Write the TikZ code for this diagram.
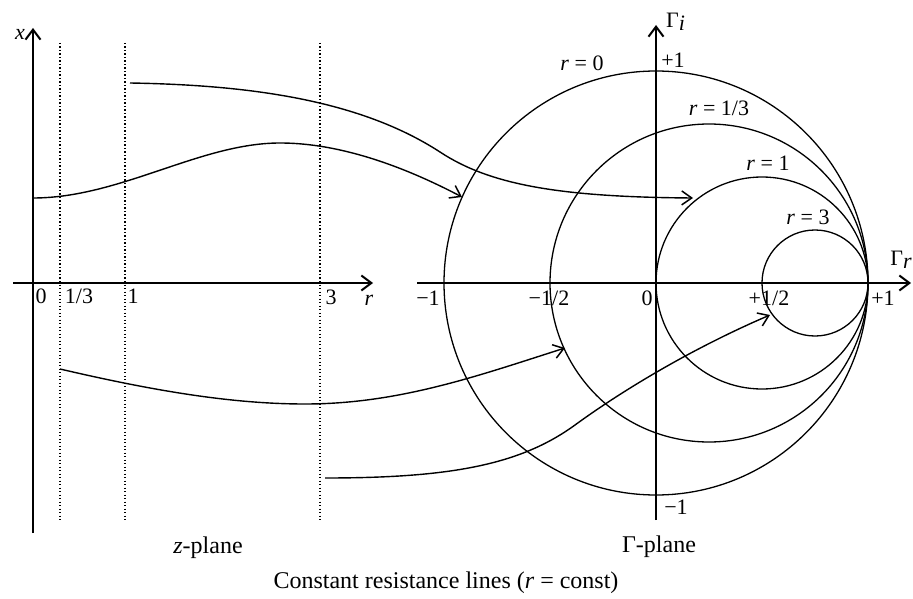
\documentclass[tikz,border=0pt]{standalone}
\usepackage{fontspec}
\setmainfont{Liberation Serif}
\usetikzlibrary{arrows.meta}
\begin{document}
\begin{tikzpicture}[x=1pt,y=-1pt,
  lbl/.style={font=\fontsize{22}{26}\selectfont, inner sep=0pt},
  captxt/.style={font=\fontsize{24}{28}\selectfont, inner sep=0pt},
  axis/.style={line width=2.6pt, -{Straight Barb[length=10pt,width=15pt,line width=2pt]}},
  thinaxis/.style={line width=2pt, -{Straight Barb[length=10pt,width=15pt,line width=2pt]}},
  circ/.style={line width=1.3pt},
  guide/.style={line width=1.6pt, dash pattern=on 1.3pt off 2.2pt},
  conn/.style={line width=1.4pt, -{Straight Barb[length=10pt,width=14pt,line width=1.5pt]}}]
\useasboundingbox (0,0) rectangle (913,599);
% ---------- z-plane ----------
\coordinate (xb) at (33,533);
\coordinate (xt) at (33,28);
\coordinate (rl) at (13,283);
\coordinate (rt) at (373,283);
\draw[axis] (xb) -- (xt);
\draw[thinaxis] (rl) -- (rt);
\coordinate (g1t) at (60,43);  \coordinate (g1b) at (60,520);
\coordinate (g2t) at (125,43); \coordinate (g2b) at (125,520);
\coordinate (g3t) at (320,43); \coordinate (g3b) at (320,520);
\draw[guide] (g1t) -- (g1b);
\draw[guide] (g2t) -- (g2b);
\draw[guide] (g3t) -- (g3b);
\node[lbl] (lx) at (20,34) {\textit{x}};
\node[lbl] (l0) at (41,296) {0};
\node[lbl] (l13) at (79,296) {1/3};
\node[lbl] (l1) at (133,296) {1};
\node[lbl] (l3) at (331,297) {3};
\node[lbl] (lr) at (369,300) {\textit{r}};
\node[captxt] (zpl) at (208,548) {\textit{z}-plane};
% ---------- Gamma-plane ----------
\coordinate (O) at (656,283);
\coordinate (gvb) at (656,520);
\coordinate (gvt) at (656,25);
\coordinate (ghl) at (417,283);
\coordinate (ghr) at (911,283);
\draw[circ] (O) circle[radius=212];
\draw[circ] (709,283) circle[radius=159];
\draw[circ] (762,283) circle[radius=106];
\draw[circ] (815,283) circle[radius=53];
\draw[axis] (gvb) -- (gvt);
\draw[thinaxis] (ghl) -- (ghr);
\node[lbl,anchor=west] (gi) at (666,22) {Γ\raisebox{-0.35ex}{\textit{i}}};
\node[lbl,anchor=east] (gr) at (912,260) {Γ\raisebox{-0.35ex}{\textit{r}}};
\node[lbl] (p1) at (673,60) {+1};
\node[lbl] (m1b) at (676,507) {−1};
\node[lbl] (m1) at (428,298) {−1};
\node[lbl] (mh) at (549,298) {−1/2};
\node[lbl] (z0) at (647,298) {0};
\node[lbl] (ph) at (769,298) {+1/2};
\node[lbl] (p1r) at (883,298) {+1};
\node[lbl] (c0) at (582,63) {\textit{r} = 0};
\node[lbl] (c13) at (719,108) {\textit{r} = 1/3};
\node[lbl] (c1) at (768,163) {\textit{r} = 1};
\node[lbl] (c3) at (808,217) {\textit{r} = 3};
\node[captxt] (gpl) at (659,547) {Γ-plane};
\node[captxt] (title) at (446,583) {Constant resistance lines (\textit{r} = const)};
% ---------- mapping connectors ----------
\coordinate (a0) at (33,198);   \coordinate (a1) at (462,197);
\coordinate (b0) at (130,83);   \coordinate (b1) at (693,198);
\coordinate (c0s) at (60,369);  \coordinate (c1s) at (565,348);
\coordinate (d0) at (325,478);  \coordinate (d1) at (770,315);
\draw[conn] (a0) .. controls (120,198) and (200,143) .. (280,143)
                 .. controls (350,143) and (420,175) .. (a1);
\draw[conn] (b0) .. controls (250,85) and (360,100) .. (440,152)
                 .. controls (490,185) and (560,197) .. (b1);
\draw[conn] (c0s) .. controls (150,390) and (230,404) .. (305,404)
                  .. controls (400,404) and (480,375) .. (c1s);
\draw[conn] (d0) .. controls (450,478) and (520,465) .. (575,425)
                 .. controls (630,385) and (700,345) .. (d1);
\end{tikzpicture}
\end{document}
